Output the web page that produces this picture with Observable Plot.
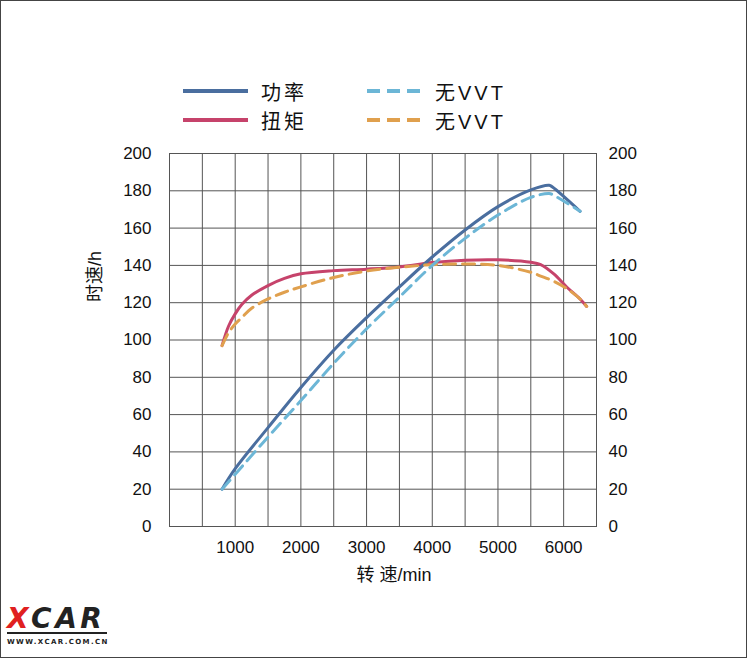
<!DOCTYPE html>
<html><head><meta charset="utf-8">
<script src="https://cdn.jsdelivr.net/npm/d3@7"></script>
<script src="https://cdn.jsdelivr.net/npm/@observablehq/plot@0.6"></script>
<style>
body{margin:0;background:#fff;}
#wrap{position:relative;width:747px;height:658px;overflow:hidden;background:#fff;font-family:"Liberation Sans","Noto Sans CJK SC",sans-serif;}
#frame{position:absolute;left:0;top:0;width:745px;height:656px;border:1px solid #444;pointer-events:none;}
#chart{position:absolute;left:0;top:0;}
.lg{position:absolute;height:20px;display:flex;align-items:center;font-size:20px;letter-spacing:3px;color:#111;font-family:"Liberation Sans","Noto Sans CJK SC",sans-serif;}
.lg svg{margin-right:13px;}
.logo-big{position:absolute;left:7px;top:604px;font-family:"DejaVu Sans",sans-serif;font-weight:bold;font-style:italic;font-size:28px;letter-spacing:3.5px;line-height:30px;color:#222;white-space:nowrap;}
.logo-big span{color:#e02020;}
.logo-bar{position:absolute;left:7px;top:632px;width:100px;height:2px;background:#222;}
.logo-small{position:absolute;left:7px;top:637.5px;font-family:"DejaVu Sans",sans-serif;font-weight:bold;font-size:7px;line-height:8px;letter-spacing:1.4px;color:#222;white-space:nowrap;}
</style></head>
<body>
<div id="wrap">
  <div id="chart"></div>
  <div id="legend"></div>
  <div class="logo-big"><span>X</span>CAR</div>
  <div class="logo-bar"></div>
  <div class="logo-small">WWW.XCAR.COM.CN</div>
  <div id="frame"></div>
</div>
<script>
// ---- data ----
const xTicks = [1000, 2000, 3000, 4000, 5000, 6000];
const yTicks = [0, 20, 40, 60, 80, 100, 120, 140, 160, 180, 200];
const xGrid = [0, 500, 1000, 1500, 2000, 2500, 3000, 3500, 4000, 4500, 5000, 5500, 6000, 6500];

const rpmPower   = [800, 1000, 1500, 2000, 2500, 3000, 3500, 4000, 4500, 5000, 5500, 5780, 5830, 6250];
const powerVVT   = [20, 31, 53, 74.5, 94.5, 112, 128.5, 144.5, 159, 171.5, 180.5, 183, 182, 169];
const powerNoVVT = [20, 28, 48, 67.5, 87.5, 106, 123, 140, 154.5, 167, 176.5, 178.6, 178, 169];

const rpmTorque   = [800, 900, 1000, 1100, 1250, 1500, 1750, 2000, 2500, 3000, 3500, 4000, 4500, 5000, 5500, 5650, 5850, 6050, 6250, 6350];
const torqueVVT   = [97, 107.5, 114, 119, 124, 129.2, 133, 135.5, 137.2, 138, 139.2, 141.5, 142.8, 143, 141.7, 140.4, 135.4, 128.3, 122, 118];
const torqueNoVVT = [97, 104, 108.6, 112, 117, 122, 125.6, 128.5, 133.5, 137, 139, 140.4, 140.8, 140, 136.3, 134.3, 131.5, 127.5, 122, 118];

const seriesNames = ["功率", "扭矩", "无VVT", "无VVT"];
const colors = {power: "#4a6e9f", torque: "#c6436b", powerNo: "#6cb6d6", torqueNo: "#e0a04e"};
const dash = "12,7";

const toRows = (xs, ys) => xs.map((x, i) => ({rpm: x, v: ys[i]}));

const fontFam = '"Liberation Sans","Noto Sans CJK SC",sans-serif';
const plot = Plot.plot({
  width: 747, height: 658,
  marginLeft: 169, marginRight: 151, marginTop: 153, marginBottom: 132,
  style: {fontSize: "17px", fontFamily: fontFam, color: "#111", background: "transparent"},
  x: {domain: [0, 6500]},
  y: {domain: [0, 200]},
  marks: [
    Plot.gridX(xGrid, {stroke: "#555", strokeOpacity: 1, strokeWidth: 1}),
    Plot.gridY(yTicks, {stroke: "#555", strokeOpacity: 1, strokeWidth: 1}),
    Plot.frame({stroke: "#555", strokeWidth: 1}),
    Plot.axisX({ticks: xTicks, tickSize: 0, tickPadding: 14, tickFormat: "d", label: null}),
    Plot.axisY({anchor: "left", ticks: yTicks, tickSize: 0, tickPadding: 18, tickFormat: "d", label: null}),
    Plot.axisY({anchor: "right", ticks: yTicks, tickSize: 0, tickPadding: 12, tickFormat: "d", label: null}),
    Plot.line(toRows(rpmTorque, torqueVVT), {x: "rpm", y: "v", stroke: colors.torque, strokeWidth: 3, curve: "catmull-rom"}),
    Plot.line(toRows(rpmPower, powerVVT), {x: "rpm", y: "v", stroke: colors.power, strokeWidth: 3, curve: "catmull-rom"}),
    Plot.line(toRows(rpmTorque, torqueNoVVT), {x: "rpm", y: "v", stroke: colors.torqueNo, strokeWidth: 3, strokeDasharray: dash, curve: "catmull-rom"}),
    Plot.line(toRows(rpmPower, powerNoVVT), {x: "rpm", y: "v", stroke: colors.powerNo, strokeWidth: 3, strokeDasharray: dash, curve: "catmull-rom"}),
    Plot.text(["转 速/min"], {frameAnchor: "bottom", dx: 11, dy: 54, fontSize: 18, fill: "#111"}),
    Plot.text(["时速/h"], {frameAnchor: "left", rotate: -90, dx: -74, dy: -38, fontSize: 18, fill: "#111"})
  ]
});
document.getElementById("chart").appendChild(plot);

// ---- legend (HTML) ----
const legendItems = [
  {name: seriesNames[0], color: colors.power, dashed: false, left: 183, top: 81},
  {name: seriesNames[1], color: colors.torque, dashed: false, left: 183, top: 110},
  {name: seriesNames[2], color: colors.powerNo, dashed: true, left: 367, top: 81},
  {name: seriesNames[3], color: colors.torqueNo, dashed: true, left: 367, top: 110}
];
const lg = document.getElementById("legend");
for (const it of legendItems) {
  const d = document.createElement("div");
  d.className = "lg";
  d.style.left = it.left + "px";
  d.style.top = it.top + "px";
  const w = it.dashed ? 55 : 65;
  d.innerHTML = `<svg width="${w}" height="6"><line x1="0" x2="${w}" y1="3" y2="3" stroke="${it.color}" stroke-width="4" ${it.dashed ? 'stroke-dasharray="13,7"' : ''}/></svg><span>${it.name}</span>`;
  lg.appendChild(d);
}
</script>
</body></html>
